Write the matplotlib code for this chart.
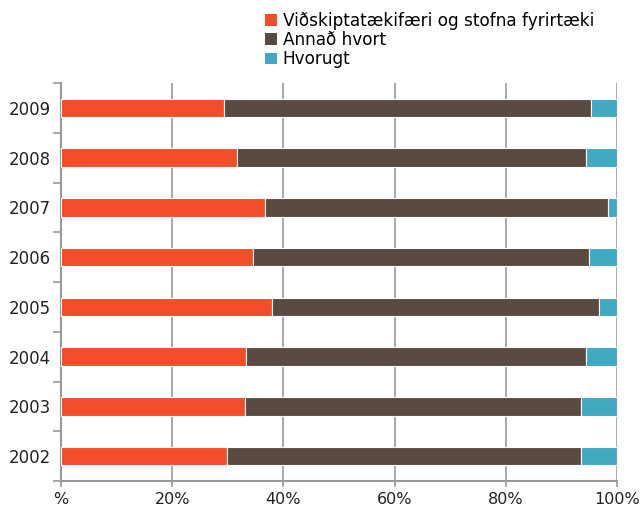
import numpy as np
import matplotlib.pyplot as plt
from matplotlib.patches import Patch

plt.rcParams['font.family'] = ['DejaVu Sans']

years = ['2002', '2003', '2004', '2005', '2006', '2007', '2008', '2009']
tækifæri = [29.8, 33.1, 33.2, 37.9, 34.5, 36.7, 31.6, 29.3]
annad = [63.8, 60.4, 61.2, 58.9, 60.5, 61.6, 62.9, 66.1]
hvorugt = [100 - a - b for a, b in zip(tækifæri, annad)]

labels = ['Viðskiptatækifæri og stofna fyrirtæki', 'Annað hvort', 'Hvorugt']
colors = ['#F24E2A', '#5A4B42', '#41A9C1']
xticklabels = ['%', '20%', '40%', '60%', '80%', '100%']

fig = plt.figure(figsize=(6.4, 5.11), dpi=100)
ax = fig.add_axes([61/640, 1 - 481/511, 556/640, 398/511])

y = np.arange(len(years))
left = np.zeros(len(years))
for vals, c in zip([tækifæri, annad, hvorugt], colors):
    ax.barh(y, vals, left=left, height=0.37, color=c, edgecolor='white',
            linewidth=0.8, zorder=3)
    left = left + np.array(vals)

ax.set_xlim(0, 100)
ax.set_ylim(-0.5, len(years) - 0.5)
ax.set_xticks(np.arange(0, 101, 20))
ax.set_xticklabels(xticklabels, fontsize=11.5, color='#222222')
ax.set_yticks(y)
ax.set_yticklabels(years, fontsize=12, color='#222222')
ax.tick_params(axis='y', length=0, pad=7)
ax.tick_params(axis='x', length=4, color='#999999', width=1.2, pad=4)
ax.set_yticks(np.arange(-0.5, len(years), 1), minor=True)
ax.tick_params(axis='y', which='minor', length=6, color='#999999', width=1.2)
ax.grid(axis='x', color='#999999', linewidth=1.2, zorder=0)

for s in ['top', 'right']:
    ax.spines[s].set_visible(False)
for s in ['left', 'bottom']:
    ax.spines[s].set_color('#999999')
    ax.spines[s].set_linewidth(1.5)

handles = [Patch(facecolor=c, edgecolor='none') for c in colors]
fig.legend(handles, labels, loc='upper left', bbox_to_anchor=(258/640, 1 - 5/511),
           frameon=False, fontsize=12.2, handlelength=0.7, handleheight=0.7,
           handletextpad=0.35, labelspacing=0.08, borderaxespad=0)

fig.savefig('out.png', dpi=100)
